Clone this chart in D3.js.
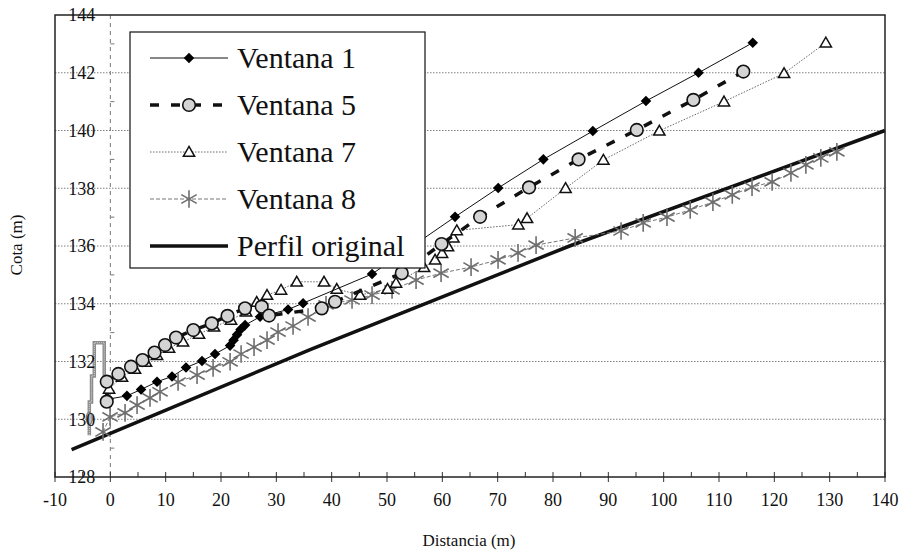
<!DOCTYPE html>
<html><head><meta charset="utf-8">
<script src="https://cdn.jsdelivr.net/npm/d3@7"></script>
<style>
html,body{margin:0;background:#fff;}
</style></head>
<body><div id="chart"></div>
<script>
// series [distancia, cota]
const ventana1 = [[-0.3,130.7],[3.0,130.81],[5.55,131.03],[8.44,131.3],[11.15,131.48],[13.68,131.79],[16.57,132.02],[18.92,132.26],[21.64,132.55],[22.27,132.74],[22.9,132.93],[23.53,133.11],[24.35,133.26],[27.06,133.55],[32.12,133.8],[34.83,134.02],[47.3,135.03],[62.3,137.01],[70.1,138.01],[78.26,139.0],[87.2,139.98],[96.8,141.02],[106.3,142.0],[116.1,143.04]];
const ventana5 = [[-0.65,130.61],[-0.65,131.3],[1.45,131.57],[3.74,131.82],[5.82,132.05],[7.99,132.31],[9.89,132.57],[11.87,132.83],[15.0,133.09],[18.33,133.32],[21.18,133.58],[24.34,133.84],[27.36,133.9],[28.68,133.59],[38.21,133.84],[40.61,134.07],[52.67,135.06],[59.86,136.07],[66.82,137.01],[75.67,138.03],[84.62,139.0],[95.14,140.02],[105.37,141.06],[114.4,142.04]];
const ventana7 = [[-0.23,131.05],[2.11,131.46],[4.46,131.74],[6.45,131.98],[8.44,132.22],[10.61,132.47],[13.14,132.68],[16.03,132.95],[18.74,133.2],[21.81,133.44],[24.53,133.72],[26.46,134.06],[28.32,134.3],[30.85,134.48],[33.69,134.76],[38.62,134.76],[40.92,134.51],[45.13,134.3],[50.1,134.51],[51.63,134.72],[56.7,135.26],[58.69,135.52],[59.95,135.75],[61.03,135.98],[62.0,136.29],[62.61,136.54],[73.74,136.74],[75.31,136.96],[82.27,138.0],[89.1,138.98],[99.22,139.99],[110.9,141.0],[121.76,141.98],[129.3,143.04]];
const ventana8 = [[-1.32,129.56],[-0.05,130.08],[2.66,130.22],[4.83,130.49],[7.17,130.74],[8.98,130.95],[12.24,131.29],[15.67,131.53],[18.57,131.78],[21.64,131.99],[23.63,132.26],[25.97,132.5],[28.32,132.74],[30.31,133.02],[33.02,133.23],[35.73,133.54],[38.98,133.96],[43.68,134.13],[47.3,134.3],[50.91,134.48],[55.25,134.82],[59.77,135.06],[65.19,135.27],[70.07,135.52],[73.68,135.76],[76.94,136.03],[84.0,136.28],[92.3,136.52],[96.3,136.8],[100.6,137.0],[104.8,137.25],[108.9,137.52],[112.4,137.77],[115.97,138.04],[119.6,138.22],[123.0,138.53],[125.7,138.81],[128.4,139.05],[131.3,139.26]];
const perfil = [[-7,128.95],[36,132.4],[83,136.0],[140,140.0]];
const estructura = [[-3.8,129.45],[-3.8,130.6],[-3.4,130.6],[-3.4,131.5],[-2.9,131.5],[-2.9,132.65],[-1.1,132.65],[-1.1,131.45]];
const estructuraPunto = [-3.8,130.03];

const xTicks = d3.range(-10,141,10);
const yTicks = d3.range(128,145,2);
const legendLabels = ["Ventana 1","Ventana 5","Ventana 7","Ventana 8","Perfil original"];

const W=902, H=555;
const FONT = "'Liberation Serif','Times New Roman',Tinos,'DejaVu Serif',serif";
const x = d3.scaleLinear().domain([-10,140]).range([55,885]);
const y = d3.scaleLinear().domain([128,144]).range([477,15]);

const svg = d3.select("#chart").append("svg").attr("width",W).attr("height",H)
  .style("font-family",FONT).attr("font-family",FONT);

// grid
svg.append("g").selectAll("line").data(yTicks.filter(v=>v>128&&v<144)).join("line")
  .attr("x1",x(-10)).attr("x2",x(140)).attr("y1",d=>y(d)).attr("y2",d=>y(d))
  .attr("stroke","#808080").attr("stroke-width",1).attr("stroke-dasharray","1.5,1.5");

// eje vertical en x=0 (discontinuo) con marcas menores
svg.append("line").attr("x1",x(0)).attr("x2",x(0)).attr("y1",y(144)).attr("y2",y(128))
  .attr("stroke","#777").attr("stroke-width",1).attr("stroke-dasharray","4,4");
svg.append("g").selectAll("line").data(d3.range(129,144,2)).join("line")
  .attr("x1",x(0)).attr("x2",x(0)+4).attr("y1",d=>y(d)).attr("y2",d=>y(d))
  .attr("stroke","#777").attr("stroke-width",1);

// marcas eje x
svg.append("g").selectAll("line").data(d3.range(-10,141,5)).join("line")
  .attr("x1",d=>x(d)).attr("x2",d=>x(d)).attr("y1",y(128)-5).attr("y2",d=>d%10===0?y(128)+5:y(128))
  .attr("stroke","#333").attr("stroke-width",1);

const lineGen = d3.line().x(d=>x(d[0])).y(d=>y(d[1]));

// perfil original
svg.append("path").attr("d",lineGen(perfil)).attr("fill","none").attr("stroke","#111").attr("stroke-width",3.5);

// estructura
svg.append("path").attr("d",lineGen(estructura)).attr("fill","none").attr("stroke","#8c8c8c").attr("stroke-width",3.5);
svg.append("path").attr("d",lineGen(estructura)).attr("fill","none").attr("stroke","#d8d8d8").attr("stroke-width",1).attr("stroke-dasharray","1,1");

const styles = [
  {data:ventana8, line:{stroke:"#777",w:1,dash:"4,2"}, mark:"ast"},
  {data:ventana7, line:{stroke:"#666",w:1,dash:"1.5,1.5"}, mark:"tri"},
  {data:ventana1, line:{stroke:"#111",w:1,dash:null}, mark:"dia"},
  {data:ventana5, line:{stroke:"#111",w:3.5,dash:"9,12"}, mark:"cir"}
];

function drawMark(g, kind, px, py){
  if(kind==="ast"){
    g.append("path").attr("transform",`translate(${px},${py})`).attr("d",d3.symbol(d3.symbolAsterisk,220)())
      .attr("fill","none").attr("stroke","#6e6e6e").attr("stroke-width",1.6);
  } else if(kind==="tri"){
    g.append("path").attr("transform",`translate(${px},${py+1})`).attr("d",d3.symbol(d3.symbolTriangle,55)())
      .attr("fill","#fff").attr("stroke","#111").attr("stroke-width",1.5);
  } else if(kind==="dia"){
    g.append("path").attr("transform",`translate(${px},${py}) rotate(45)`).attr("d",d3.symbol(d3.symbolSquare,56)())
      .attr("fill","#000");
  } else {
    g.append("circle").attr("cx",px).attr("cy",py).attr("r",6.3).attr("fill","#d4d4d4").attr("stroke","#111").attr("stroke-width",1.6);
  }
}

styles.forEach(s=>{
  const g = svg.append("g");
  g.append("path").attr("d",lineGen(s.data)).attr("fill","none")
    .attr("stroke",s.line.stroke).attr("stroke-width",s.line.w).attr("stroke-dasharray",s.line.dash);
  s.data.forEach(d=>drawMark(g, s.mark, x(d[0]), y(d[1])));
});

svg.append("ellipse").attr("cx",x(estructuraPunto[0])).attr("cy",y(estructuraPunto[1])).attr("rx",3).attr("ry",6)
  .attr("fill","#bbb").attr("stroke","#777").attr("stroke-width",1.2);

// marco
svg.append("rect").attr("x",x(-10)).attr("y",y(144)).attr("width",x(140)-x(-10)).attr("height",y(128)-y(144))
  .attr("fill","none").attr("stroke","#222").attr("stroke-width",1.5);

// etiquetas
svg.append("g").selectAll("text").data(yTicks).join("text")
  .attr("x",x(0)-15).attr("y",d=>y(d)).attr("dy","0.35em").attr("text-anchor","end").attr("font-size",18).attr("fill","#111").text(d=>d);
svg.append("g").selectAll("text").data(xTicks).join("text")
  .attr("x",d=>x(d)).attr("y",506).attr("text-anchor","middle").attr("font-size",18).attr("fill","#111").text(d=>d);

svg.append("text").attr("x",469).attr("y",546).attr("text-anchor","middle").attr("font-size",17).attr("fill","#111").text("Distancia (m)");
svg.append("text").attr("transform","translate(22,245) rotate(-90)").attr("text-anchor","middle").attr("font-size",17).attr("fill","#111").text("Cota (m)");

// leyenda
const lg = svg.append("g");
lg.append("rect").attr("x",130).attr("y",32).attr("width",295).attr("height",236).attr("fill","#fff").attr("stroke","#111").attr("stroke-width",1.2);
const legStyles = [
  {line:{stroke:"#111",w:1,dash:null}, mark:"dia"},
  {line:{stroke:"#111",w:3.5,dash:"9,12"}, mark:"cir"},
  {line:{stroke:"#666",w:1,dash:"1.5,1.5"}, mark:"tri"},
  {line:{stroke:"#777",w:1,dash:"4,2"}, mark:"ast"},
  {line:{stroke:"#111",w:3.5,dash:null}, mark:null}
];
legendLabels.forEach((lab,i)=>{
  const cy = 58 + i*47;
  const s = legStyles[i];
  lg.append("line").attr("x1",150).attr("x2",228).attr("y1",cy).attr("y2",cy)
    .attr("stroke",s.line.stroke).attr("stroke-width",s.line.w).attr("stroke-dasharray",s.line.dash);
  if(s.mark) drawMark(lg, s.mark, 189, cy);
  lg.append("text").attr("x",237).attr("y",cy+10).attr("font-size",30).attr("fill","#111").text(lab);
});
</script>
</body></html>
